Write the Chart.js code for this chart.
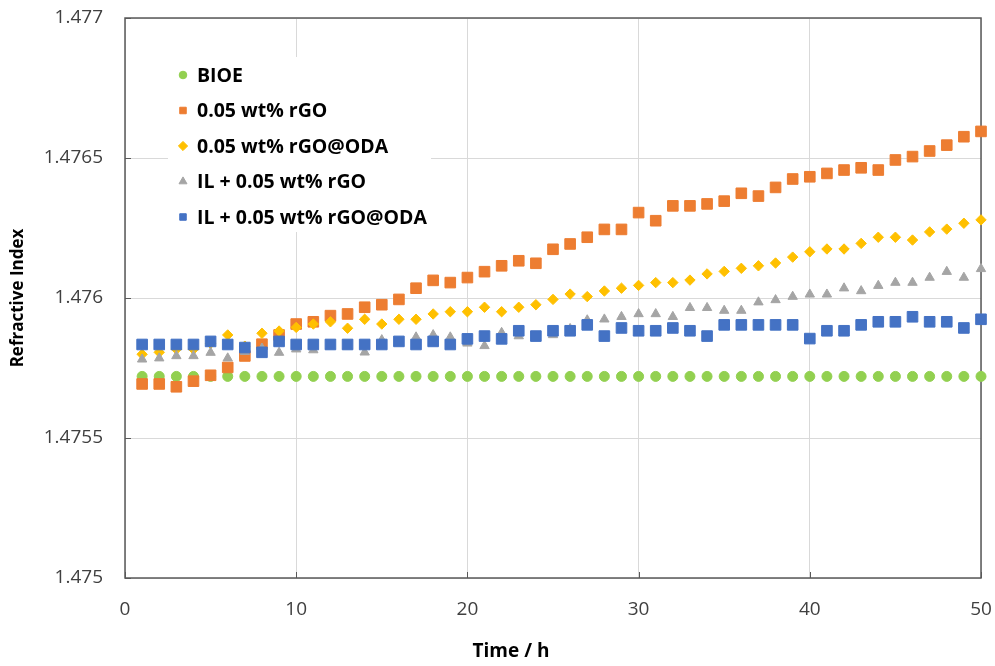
<!DOCTYPE html>
<html>
<head>
<meta charset="utf-8">
<title>Refractive Index vs Time</title>
<script src="https://cdn.jsdelivr.net/npm/chart.js@4.4.1/dist/chart.umd.min.js"></script>
<style>
  html, body { margin: 0; padding: 0; background: #fff; }
  #wrap { width: 995px; height: 666px; }
</style>
</head>
<body>
<div id="wrap"><canvas id="chart"></canvas></div>
<script>
// datos
const hours = [1, 2, 3, 4, 5, 6, 7, 8, 9, 10, 11, 12, 13, 14, 15, 16, 17, 18, 19, 20,
  21, 22, 23, 24, 25, 26, 27, 28, 29, 30, 31, 32, 33, 34, 35, 36, 37, 38, 39, 40,
  41, 42, 43, 44, 45, 46, 47, 48, 49, 50];

const bioe = [1.47572, 1.47572, 1.47572, 1.47572, 1.47572, 1.47572, 1.47572, 1.47572, 1.47572, 1.47572,
  1.47572, 1.47572, 1.47572, 1.47572, 1.47572, 1.47572, 1.47572, 1.47572, 1.47572, 1.47572,
  1.47572, 1.47572, 1.47572, 1.47572, 1.47572, 1.47572, 1.47572, 1.47572, 1.47572, 1.47572,
  1.47572, 1.47572, 1.47572, 1.47572, 1.47572, 1.47572, 1.47572, 1.47572, 1.47572, 1.47572,
  1.47572, 1.47572, 1.47572, 1.47572, 1.47572, 1.47572, 1.47572, 1.47572, 1.47572, 1.47572];

const rgo = [1.475693, 1.475693, 1.475683, 1.475703, 1.475724, 1.475752, 1.475793, 1.475835, 1.475868, 1.475907,
  1.475915, 1.475937, 1.475943, 1.475967, 1.475976, 1.475995, 1.476035, 1.476063, 1.476055, 1.476073,
  1.476094, 1.476115, 1.476133, 1.476124, 1.476174, 1.476193, 1.476217, 1.476245, 1.476245, 1.476305,
  1.476276, 1.476329, 1.476329, 1.476336, 1.476346, 1.476374, 1.476364, 1.476395, 1.476425, 1.476433,
  1.476445, 1.476457, 1.476465, 1.476457, 1.476493, 1.476505, 1.476525, 1.476546, 1.476576, 1.476595];

const rgoOda = [1.475799, 1.475806, 1.475817, 1.475817, 1.475838, 1.475868, 1.475828, 1.475874, 1.475882, 1.475895,
  1.475907, 1.475915, 1.475892, 1.475924, 1.475907, 1.475924, 1.475924, 1.475943, 1.475951, 1.475951,
  1.475967, 1.475951, 1.475967, 1.475976, 1.475995, 1.476014, 1.476005, 1.476025, 1.476035, 1.476045,
  1.476055, 1.476055, 1.476064, 1.476086, 1.476095, 1.476106, 1.476115, 1.476125, 1.476146, 1.476165,
  1.476175, 1.476175, 1.476195, 1.476217, 1.476217, 1.476207, 1.476236, 1.476246, 1.476267, 1.476279];

const ilRgo = [1.475781, 1.475785, 1.475793, 1.475793, 1.475805, 1.475785, 1.475808, 1.47582, 1.475805, 1.475817,
  1.475814, 1.475828, 1.475828, 1.475806, 1.47585, 1.47584, 1.47586, 1.475868, 1.47586, 1.475838,
  1.475829, 1.475876, 1.475864, 1.47586, 1.475868, 1.47589, 1.475921, 1.475924, 1.475933, 1.475943,
  1.475943, 1.475933, 1.475965, 1.475965, 1.475955, 1.475955, 1.475985, 1.475993, 1.476005, 1.476013,
  1.476013, 1.476035, 1.476025, 1.476044, 1.476055, 1.476055, 1.476073, 1.476094, 1.476073, 1.476104];

const ilRgoOda = [1.475834, 1.475834, 1.475834, 1.475834, 1.475845, 1.475834, 1.475823, 1.475806, 1.475845, 1.475834,
  1.475834, 1.475834, 1.475834, 1.475834, 1.475834, 1.475845, 1.475834, 1.475845, 1.475834, 1.475854,
  1.475864, 1.475854, 1.475883, 1.475864, 1.475883, 1.475883, 1.475904, 1.475864, 1.475893, 1.475883,
  1.475883, 1.475893, 1.475883, 1.475864, 1.475904, 1.475904, 1.475904, 1.475904, 1.475904, 1.475855,
  1.475883, 1.475883, 1.475904, 1.475915, 1.475915, 1.475933, 1.475915, 1.475915, 1.475893, 1.475924];

const seriesNames = ['BIOE', '0.05 wt% rGO', '0.05 wt% rGO@ODA', 'IL + 0.05 wt% rGO', 'IL + 0.05 wt% rGO@ODA'];
const yTickLabels = ['1.475', '1.4755', '1.476', '1.4765', '1.477'];
const xTickLabels = ['0', '10', '20', '30', '40', '50'];
const xTitle = 'Time / h';

const toPoints = vals => hours.map((h, i) => ({ x: h, y: vals[i] }));

const makeSet = (label, vals, color, style, radius, order) => ({
  label: label,
  data: toPoints(vals),
  pointStyle: style,
  pointRadius: radius,
  pointHoverRadius: radius,
  backgroundColor: color,
  borderColor: color,
  borderWidth: 1,
  showLine: false,
  clip: false,
  order: order
});

// caja, ticks interiores y leyenda
const framePlugin = {
  id: 'frame',
  beforeDatasetsDraw(chart) {
    const { ctx, chartArea: a, scales } = chart;
    ctx.save();
    ctx.strokeStyle = '#595959';
    ctx.lineWidth = 1.5;
    ctx.strokeRect(a.left, a.top, a.right - a.left, a.bottom - a.top);

    ctx.lineWidth = 1;
    scales.x.ticks.forEach(t => {
      const px = Math.round(scales.x.getPixelForValue(t.value)) + 0.5;
      ctx.beginPath(); ctx.moveTo(px, a.bottom); ctx.lineTo(px, a.bottom - 6); ctx.stroke();
    });
    scales.y.ticks.forEach(t => {
      const py = Math.round(scales.y.getPixelForValue(t.value)) + 0.5;
      ctx.beginPath(); ctx.moveTo(a.left, py); ctx.lineTo(a.left + 6, py); ctx.stroke();
    });

    // leyenda
    const box = { x: 168, y: 57, w: 263, h: 175 };
    ctx.fillStyle = '#fff';
    ctx.fillRect(box.x, box.y, box.w, box.h);
    ctx.font = 'bold 19.5px "Open Sans"';
    ctx.textBaseline = 'middle';
    chart.data.datasets.forEach((ds, i) => {
      const cy = 75 + i * 35.5;
      ctx.fillStyle = ds.backgroundColor;
      ctx.strokeStyle = ds.borderColor;
      ctx.lineWidth = 1;
      Chart.helpers.drawPoint(ctx, {
        pointStyle: ds.pointStyle,
        radius: ds.pointStyle === 'circle' ? 3.8 : 4.6,
        borderWidth: 1,
        rotation: 0
      }, 183, cy);
      ctx.fillStyle = '#000';
      ctx.fillText(ds.label, 197, cy + 1);
    });
    ctx.restore();
  },
  afterDraw(chart) {
    // titulo del eje x, algo a la izquierda del centro como en el original
    const { ctx } = chart;
    ctx.save();
    ctx.font = 'bold 19px "Open Sans"';
    ctx.fillStyle = '#000';
    ctx.textAlign = 'center';
    ctx.textBaseline = 'middle';
    ctx.fillText(xTitle, 511, 652);
    ctx.restore();
  }
};

const data = {
  datasets: [
    makeSet(seriesNames[0], bioe, '#92D050', 'circle', 5, 5),
    makeSet(seriesNames[1], rgo, '#ED7D31', 'rect', 7.5, 4),
    makeSet(seriesNames[2], rgoOda, '#FFC000', 'rectRot', 5.2, 3),
    makeSet(seriesNames[3], ilRgo, '#A5A5A5', 'triangle', 5.4, 2),
    makeSet(seriesNames[4], ilRgoOda, '#4472C4', 'rect', 7.5, 1)
  ]
};

new Chart(document.getElementById('chart'), {
  type: 'scatter',
  data: data,
  options: {
    responsive: true,
    maintainAspectRatio: false,
    animation: false,
    devicePixelRatio: 1,
    layout: { padding: { top: 18, right: 14, left: 0, bottom: 0 } },
    plugins: {
      legend: { display: false },
      tooltip: { enabled: false }
    },
    scales: {
      x: {
        type: 'linear',
        min: 0,
        max: 50,
        afterFit: s => { s.height = 88; s.paddingLeft = 0; s.paddingRight = 0; },
        afterBuildTicks: s => { s.ticks = xTickLabels.map(v => ({ value: Number(v) })); },
        ticks: {
          padding: 20,
          color: '#404040',
          font: { family: 'Open Sans', size: 19 },
          maxRotation: 0,
          callback: (v, i) => xTickLabels[i]
        },
        grid: { color: '#D9D9D9', lineWidth: 1, drawTicks: false },
        border: { display: false },
        title: { display: false }
      },
      y: {
        type: 'linear',
        min: 1.475,
        max: 1.477,
        afterFit: s => { s.width = 125; s.paddingTop = 0; s.paddingBottom = 0; },
        afterBuildTicks: s => { s.ticks = yTickLabels.map(v => ({ value: Number(v) })); },
        ticks: {
          padding: 22,
          color: '#404040',
          font: { family: 'Open Sans', size: 19 },
          callback: (v, i) => yTickLabels[i]
        },
        grid: { color: '#D9D9D9', lineWidth: 1, drawTicks: false },
        border: { display: false },
        title: {
          display: true,
          text: 'Refractive Index',
          color: '#000',
          font: { family: 'Open Sans', size: 17, weight: 'bold' },
          padding: { top: 8, bottom: 0 }
        }
      }
    }
  },
  plugins: [framePlugin]
});
</script>
</body>
</html>
